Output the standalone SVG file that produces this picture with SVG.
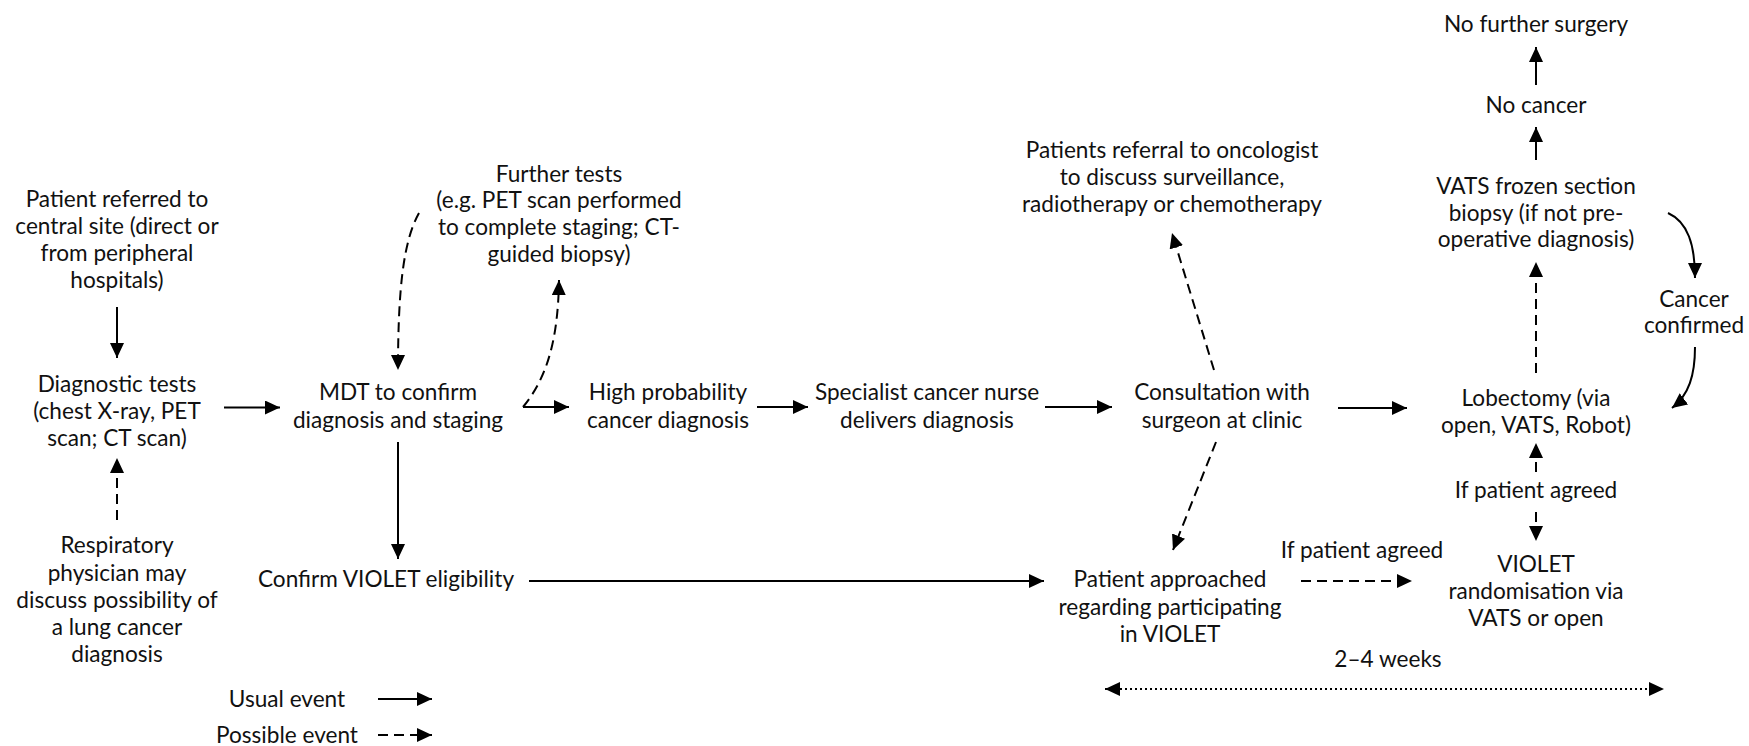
<svg xmlns="http://www.w3.org/2000/svg" width="1749" height="746" viewBox="0 0 1749 746">
<style>
text{font-family:Lato,"Open Sans","Liberation Sans",sans-serif;font-size:22.6px;fill:#111;text-anchor:middle}
.c{fill:none;stroke:#000;stroke-width:2}
.d{stroke-dasharray:10 6}
.o{stroke-dasharray:2 3}
</style>
<defs>
<marker id="ah" markerUnits="userSpaceOnUse" markerWidth="15" markerHeight="14" refX="15" refY="7" orient="auto"><path d="M0,0 L15,7 L0,14 z" fill="#000"/></marker>
<marker id="as" markerUnits="userSpaceOnUse" markerWidth="15" markerHeight="14" refX="0" refY="7" orient="auto"><path d="M15,0 L0,7 L15,14 z" fill="#000"/></marker>
</defs>
<rect width="1749" height="746" fill="#fff"/>
<g id="n-referred"><text x="117" y="207">Patient referred to</text><text x="117" y="234">central site (direct or</text><text x="117" y="261">from peripheral</text><text x="117" y="288">hospitals)</text></g>
<g id="n-diagnostic"><text x="117" y="392">Diagnostic tests</text><text x="117" y="419">(chest X-ray, PET</text><text x="117" y="446">scan; CT scan)</text></g>
<g id="n-respiratory"><text x="117" y="553">Respiratory</text><text x="117" y="581">physician may</text><text x="117" y="608">discuss possibility of</text><text x="117" y="635">a lung cancer</text><text x="117" y="662">diagnosis</text></g>
<g id="n-mdt"><text x="398" y="400">MDT to confirm</text><text x="398" y="428">diagnosis and staging</text></g>
<g id="n-further"><text x="559" y="182">Further tests</text><text x="559" y="208">(e.g. PET scan performed</text><text x="559" y="235">to complete staging; CT-</text><text x="559" y="262">guided biopsy)</text></g>
<g id="n-high"><text x="668" y="400">High probability</text><text x="668" y="428">cancer diagnosis</text></g>
<g id="n-nurse"><text x="927" y="400">Specialist cancer nurse</text><text x="927" y="428">delivers diagnosis</text></g>
<g id="n-consult"><text x="1222" y="400">Consultation with</text><text x="1222" y="428">surgeon at clinic</text></g>
<g id="n-oncologist"><text x="1172" y="158">Patients referral to oncologist</text><text x="1172" y="185">to discuss surveillance,</text><text x="1172" y="212">radiotherapy or chemotherapy</text></g>
<g id="n-confirm"><text x="386" y="587">Confirm VIOLET eligibility</text></g>
<g id="n-approached"><text x="1170" y="587">Patient approached</text><text x="1170" y="615">regarding participating</text><text x="1170" y="642">in VIOLET</text></g>
<g id="n-agreed1"><text x="1362" y="558">If patient agreed</text></g>
<g id="n-randomisation"><text x="1536" y="572">VIOLET</text><text x="1536" y="599">randomisation via</text><text x="1536" y="626">VATS or open</text></g>
<g id="n-agreed2"><text x="1536" y="498">If patient agreed</text></g>
<g id="n-lobectomy"><text x="1536" y="406">Lobectomy (via</text><text x="1536" y="433">open, VATS, Robot)</text></g>
<g id="n-vats"><text x="1536" y="194">VATS frozen section</text><text x="1536" y="221">biopsy (if not pre-</text><text x="1536" y="247">operative diagnosis)</text></g>
<g id="n-nocancer"><text x="1536" y="113">No cancer</text></g>
<g id="n-nofurther"><text x="1536" y="32">No further surgery</text></g>
<g id="n-cancer"><text x="1694" y="307">Cancer</text><text x="1694" y="333">confirmed</text></g>
<g id="n-weeks"><text x="1388" y="667">2–4 weeks</text></g>
<g id="legend"><text x="287" y="707">Usual event</text><text x="287" y="743">Possible event</text>
<line class="c" x1="378" y1="699" x2="432" y2="699" marker-end="url(#ah)"/>
<line class="c d" x1="378" y1="735" x2="432" y2="735" stroke-dasharray="9 5" marker-end="url(#ah)"/></g>
<g id="connectors">
<line class="c" x1="117" y1="307" x2="117" y2="358" marker-end="url(#ah)"/>
<line class="c" x1="224" y1="407.5" x2="280" y2="407.5" marker-end="url(#ah)"/>
<line class="c d" x1="117" y1="520" x2="117" y2="458" marker-end="url(#ah)"/>
<line class="c" x1="398" y1="442" x2="398" y2="559" marker-end="url(#ah)"/>
<line class="c" x1="529" y1="581" x2="1044" y2="581" marker-end="url(#ah)"/>
<path class="c d" d="M419,213 C404,240 398,285 398,370" marker-end="url(#ah)"/>
<path class="c d" d="M523,407 C545,380 558,345 559,280" marker-end="url(#ah)"/>
<line class="c" x1="523" y1="407" x2="569" y2="407" marker-end="url(#ah)"/>
<line class="c" x1="757" y1="407" x2="808" y2="407" marker-end="url(#ah)"/>
<line class="c" x1="1045" y1="407" x2="1112" y2="407" marker-end="url(#ah)"/>
<line class="c" x1="1338" y1="408" x2="1407" y2="408" marker-end="url(#ah)"/>
<line class="c d" x1="1214" y1="370" x2="1172" y2="233" marker-end="url(#ah)"/>
<line class="c d" x1="1216" y1="442" x2="1173" y2="550" marker-end="url(#ah)"/>
<line class="c d" x1="1301" y1="581" x2="1412" y2="581" marker-end="url(#ah)"/>
<line class="c d" x1="1536" y1="472" x2="1536" y2="443" marker-end="url(#ah)"/>
<line class="c d" x1="1536" y1="512" x2="1536" y2="541" marker-end="url(#ah)"/>
<line class="c d" x1="1536" y1="373" x2="1536" y2="262" marker-end="url(#ah)"/>
<line class="c" x1="1536" y1="160" x2="1536" y2="127" marker-end="url(#ah)"/>
<line class="c" x1="1536" y1="85" x2="1536" y2="47" marker-end="url(#ah)"/>
<path class="c" d="M1668,213 C1688,222 1695,245 1695,278" marker-end="url(#ah)"/>
<path class="c" d="M1695,347 C1695,375 1689,395 1672,408" marker-end="url(#ah)"/>
<line class="c o" x1="1105" y1="689" x2="1664" y2="689" marker-start="url(#as)" marker-end="url(#ah)"/>
</g>
</svg>
